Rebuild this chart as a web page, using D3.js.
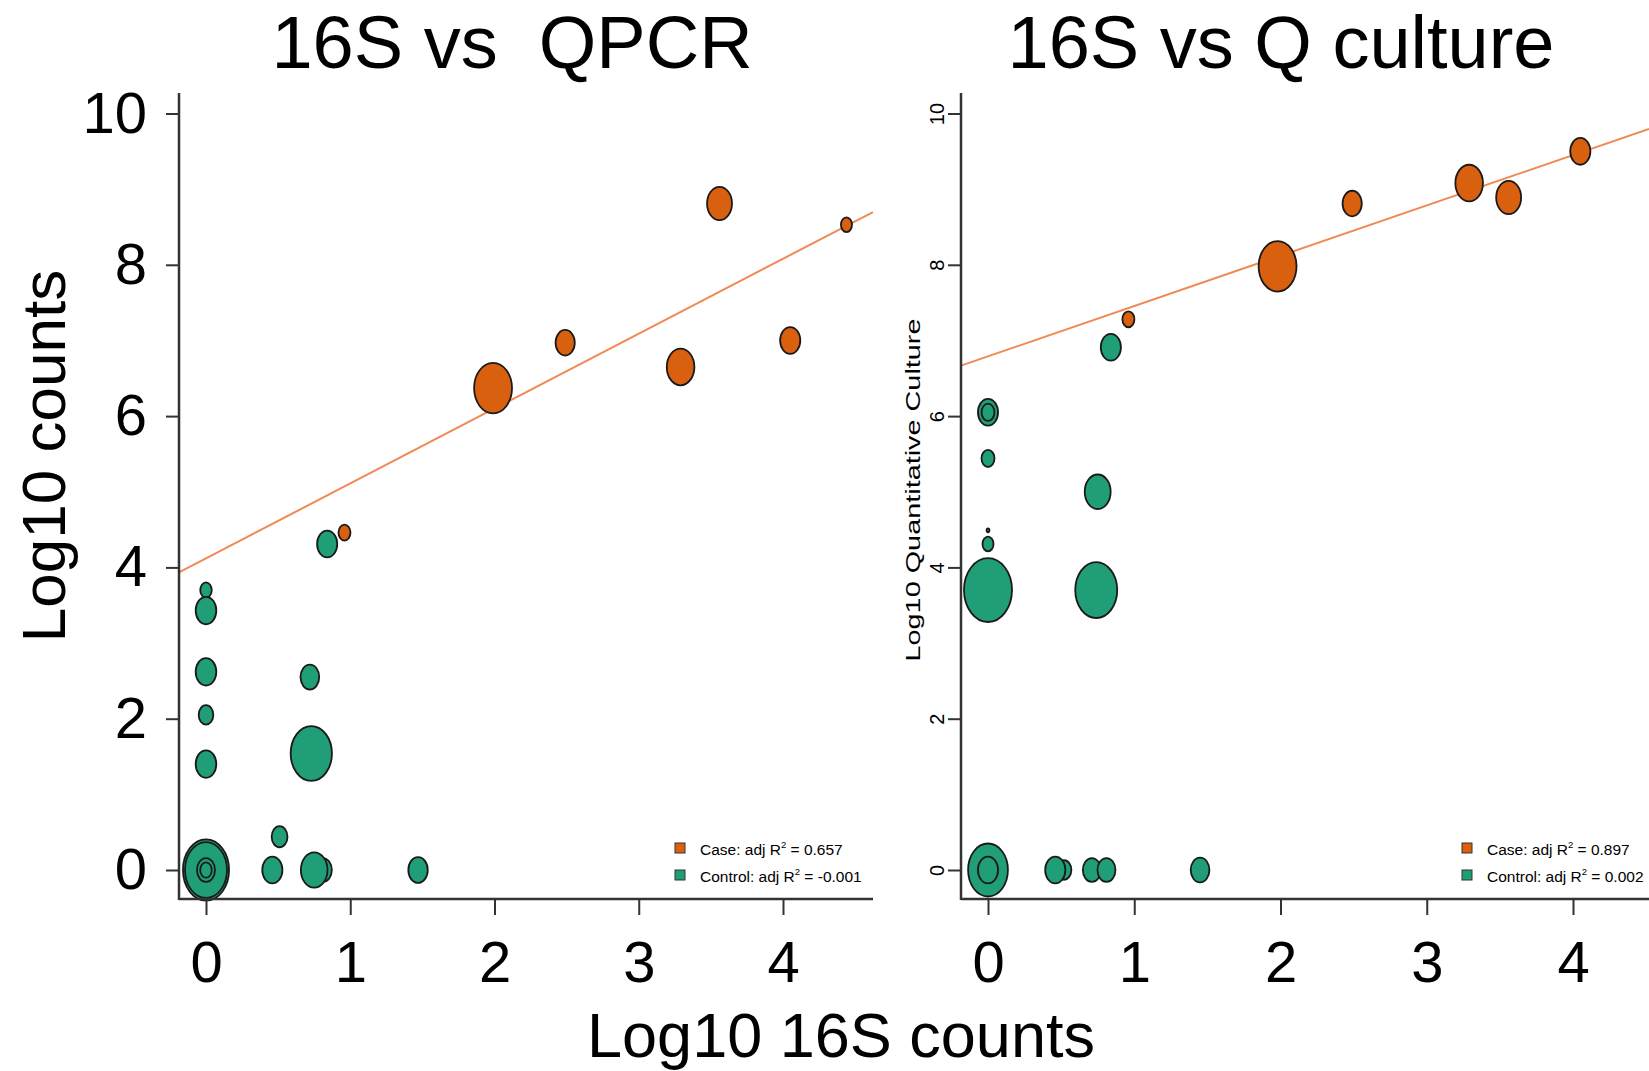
<!DOCTYPE html>
<html>
<head>
<meta charset="utf-8">
<script src="https://cdn.jsdelivr.net/npm/d3@7"></script>
<style>
body { margin: 0; background: #fff; }
text { font-family: "Liberation Sans", Arial, Helvetica, sans-serif; fill: #000; }
</style>
</head>
<body>
<div id="canvas"></div>
<script>
// tick values shared by both panels
var xTicks = [0, 1, 2, 3, 4];
var yTicks = [0, 2, 4, 6, 8, 10];

// left panel: 16S vs QPCR (log10 values, bubble size in relative units)
var qpcrCaseX    = [0.96, 1.99, 2.49, 3.29, 3.56, 4.05, 4.44];
var qpcrCaseY    = [4.46, 6.37, 6.97, 6.65, 8.81, 7.00, 8.53];
var qpcrCaseSize = [2.5, 7.9, 4.0, 5.75, 5.2, 4.2, 2.3];

var qpcrCtrlX    = [0, 0, 0, 0, 0.81, 0.75, 0.46, 0.51, 1.47, 0, 0, 0, 0, 0, 0.72, 0.73, 0.84];
var qpcrCtrlY    = [0, 0, 0, 0, 0, 0, 0, 0.44, 0, 1.40, 2.05, 2.62, 3.70, 3.43, 2.55, 1.54, 4.31];
var qpcrCtrlSize = [9.6, 8.75, 3.75, 2.4, 3.75, 5.55, 4.2, 3.3, 4.05, 4.3, 3.05, 4.3, 2.4, 4.3, 3.9, 8.6, 4.2];

// fitted line for cases: [intercept, slope]
var qpcrFit = [4.12, 0.99];
var qpcrR2 = ["0.657", "-0.001"];

// right panel: 16S vs Q culture
var cultCaseX    = [0.96, 1.98, 2.49, 3.29, 3.56, 4.05];
var cultCaseY    = [7.28, 7.98, 8.81, 9.08, 8.89, 9.50];
var cultCaseSize = [2.5, 7.9, 4.0, 5.75, 5.2, 4.2];

var cultCtrlX    = [0, 0, 0.52, 0.46, 0.71, 0.81, 1.45, 0, 0.74, 0, 0, 0, 0, 0, 0.75, 0.84];
var cultCtrlY    = [0, 0, 0, 0, 0, 0, 0, 3.70, 3.70, 4.31, 4.49, 5.44, 6.05, 6.05, 5.00, 6.91];
var cultCtrlSize = [8.3, 4.2, 3.05, 4.2, 3.75, 3.75, 3.9, 10, 8.75, 2.3, 0.6, 2.7, 4.2, 2.7, 5.4, 4.2];

var cultFit = [6.79, 0.665];
var cultR2 = ["0.897", "0.002"];

var caseColor = "#d9600f";
var ctrlColor = "#1f9e77";
var fitColor = "#f08a55";

var width = 1649;
var height = 1071;

var svg = d3.select("#canvas")
    .append("svg")
    .attr("width", width)
    .attr("height", height)
    .style("background-color", "#fff");

// bubble radius (px) for the relative size units
var rScale = d3.scaleLinear().domain([0, 10]).range([0, 24]);
var stretch = 1.33;   // the original figure was stretched vertically

// zips x/y/size arrays into point objects
function toPoints(xs, ys, sizes) {
    return xs.map(function(d, i) { return {x: d, y: ys[i], s: sizes[i]}; });
}

function drawPanel(p) {
    var x = d3.scaleLinear().domain([0, 4]).range([p.x0, p.x4]);
    var y = d3.scaleLinear().domain([0, 10]).range([870, 113.5]);

    var g = svg.append("g");

    // regression line for the cases, across the whole panel
    var lx0 = x.invert(p.left);
    var lx1 = x.invert(p.right);
    g.append("line")
        .attr("x1", x(lx0))
        .attr("y1", y(p.fit[0] + p.fit[1] * lx0))
        .attr("x2", x(lx1))
        .attr("y2", y(p.fit[0] + p.fit[1] * lx1))
        .attr("stroke", fitColor)
        .attr("stroke-width", 2);

    // control bubbles then case bubbles
    [[p.ctrl, ctrlColor], [p.cases, caseColor]].forEach(function(set) {
        g.append("g").selectAll("ellipse")
          .data(set[0])
          .enter()
          .append("ellipse")
            .attr("cx", function(d) { return x(d.x); })
            .attr("cy", function(d) { return y(d.y); })
            .attr("rx", function(d) { return rScale(d.s); })
            .attr("ry", function(d) { return rScale(d.s) * stretch; })
            .attr("fill", set[1])
            .attr("stroke", "#1a1a1a")
            .attr("stroke-width", 1.8);
    });

    // axes
    var xAxis = g.append("g")
        .attr("transform", "translate(0," + p.bottom + ")")
        .call(d3.axisBottom(x).tickValues(xTicks).tickFormat(d3.format("d"))
            .tickSize(16).tickPadding(26));
    xAxis.select(".domain").remove();
    xAxis.selectAll("line").attr("stroke", "#333").attr("stroke-width", 2);
    xAxis.selectAll("text").style("font-size", "58px").attr("fill", "#000");

    var yAxis = g.append("g")
        .attr("transform", "translate(" + p.left + ",0)")
        .call(d3.axisLeft(y).tickValues(yTicks).tickFormat(d3.format("d"))
            .tickSize(13).tickPadding(19));
    yAxis.select(".domain").remove();
    yAxis.selectAll("line").attr("stroke", "#333").attr("stroke-width", 2);

    if (p.smallY) {
        // R-style rotated small tick labels
        yAxis.selectAll("text")
            .attr("x", 0)
            .attr("dy", 0)
            .attr("text-anchor", "middle")
            .attr("transform", "translate(-17,0) rotate(-90)")
            .style("font-size", "20px")
            .attr("fill", "#000");
    } else {
        yAxis.selectAll("text").style("font-size", "58px").attr("fill", "#000");
    }

    // axis lines
    g.append("line")
        .attr("x1", p.left).attr("x2", p.left)
        .attr("y1", 93).attr("y2", p.bottom + 1)
        .attr("stroke", "#333").attr("stroke-width", 2.5);
    g.append("line")
        .attr("x1", p.left).attr("x2", p.right)
        .attr("y1", p.bottom).attr("y2", p.bottom)
        .attr("stroke", "#333").attr("stroke-width", 2.5);

    // title
    svg.append("text")
        .attr("x", p.titleX)
        .attr("y", 68)
        .attr("text-anchor", "middle")
        .style("font-size", "74px")
        .style("white-space", "pre")
        .text(p.title);

    // legend
    var labels = ["Case: adj R", "Control: adj R"];
    var colors = [caseColor, ctrlColor];
    labels.forEach(function(lab, i) {
        g.append("rect")
            .attr("x", p.legX)
            .attr("y", 843 + i * 27)
            .attr("width", 10)
            .attr("height", 10)
            .attr("fill", colors[i])
            .attr("stroke", "#333")
            .attr("stroke-width", 1);
        var t = g.append("text")
            .attr("x", p.legX + 25)
            .attr("y", 855 + i * 27)
            .style("font-size", "15.5px");
        t.append("tspan").text(lab);
        t.append("tspan").attr("dy", -7).style("font-size", "9.5px").text("2");
        t.append("tspan").attr("dy", 7).text(" = " + p.r2[i]);
    });
}

drawPanel({
    title: "16S vs  QPCR", titleX: 512,
    x0: 206, x4: 783, left: 179, right: 873, bottom: 899,
    fit: qpcrFit, r2: qpcrR2, legX: 675,
    cases: toPoints(qpcrCaseX, qpcrCaseY, qpcrCaseSize),
    ctrl: toPoints(qpcrCtrlX, qpcrCtrlY, qpcrCtrlSize),
    smallY: false
});

drawPanel({
    title: "16S vs Q culture", titleX: 1281,
    x0: 988, x4: 1573, left: 961, right: 1649, bottom: 899,
    fit: cultFit, r2: cultR2, legX: 1462,
    cases: toPoints(cultCaseX, cultCaseY, cultCaseSize),
    ctrl: toPoints(cultCtrlX, cultCtrlY, cultCtrlSize),
    smallY: true
});

// y axis titles
svg.append("text")
    .attr("transform", "translate(65,456) rotate(-90)")
    .attr("text-anchor", "middle")
    .style("font-size", "62px")
    .text("Log10 counts");

svg.append("text")
    .attr("transform", "translate(920,490) rotate(-90)")
    .attr("text-anchor", "middle")
    .attr("textLength", 343)
    .attr("lengthAdjust", "spacingAndGlyphs")
    .style("font-size", "20px")
    .text("Log10 Quantitative Culture");

// shared x axis title
svg.append("text")
    .attr("x", 841)
    .attr("y", 1057)
    .attr("text-anchor", "middle")
    .style("font-size", "63px")
    .text("Log10 16S counts");
</script>
</body>
</html>
